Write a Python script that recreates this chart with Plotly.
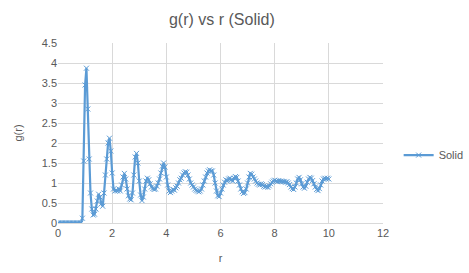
import plotly.graph_objects as go

r_vals = [0.00, 0.05, 0.10, 0.15, 0.20, 0.25, 0.30, 0.35, 0.40, 0.45,
          0.50, 0.55, 0.60, 0.65, 0.70, 0.75, 0.80, 0.85, 0.90, 0.95,
          1.00, 1.05, 1.10, 1.15, 1.20, 1.25, 1.30, 1.35, 1.40, 1.45,
          1.50, 1.55, 1.60, 1.65, 1.70, 1.75, 1.80, 1.85, 1.90, 1.95,
          2.00, 2.05, 2.10, 2.15, 2.20, 2.25, 2.30, 2.35, 2.40, 2.45,
          2.50, 2.55, 2.60, 2.65, 2.70, 2.75, 2.80, 2.85, 2.90, 2.95,
          3.00, 3.05, 3.10, 3.15, 3.20, 3.25, 3.30, 3.35, 3.40, 3.45,
          3.50, 3.55, 3.60, 3.65, 3.70, 3.75, 3.80, 3.85, 3.90, 3.95,
          4.00, 4.05, 4.10, 4.15, 4.20, 4.25, 4.30, 4.35, 4.40, 4.45,
          4.50, 4.55, 4.60, 4.65, 4.70, 4.75, 4.80, 4.85, 4.90, 4.95,
          5.00, 5.05, 5.10, 5.15, 5.20, 5.25, 5.30, 5.35, 5.40, 5.45,
          5.50, 5.55, 5.60, 5.65, 5.70, 5.75, 5.80, 5.85, 5.90, 5.95,
          6.00, 6.05, 6.10, 6.15, 6.20, 6.25, 6.30, 6.35, 6.40, 6.45,
          6.50, 6.55, 6.60, 6.65, 6.70, 6.75, 6.80, 6.85, 6.90, 6.95,
          7.00, 7.05, 7.10, 7.15, 7.20, 7.25, 7.30, 7.35, 7.40, 7.45,
          7.50, 7.55, 7.60, 7.65, 7.70, 7.75, 7.80, 7.85, 7.90, 7.95,
          8.00, 8.05, 8.10, 8.15, 8.20, 8.25, 8.30, 8.35, 8.40, 8.45,
          8.50, 8.55, 8.60, 8.65, 8.70, 8.75, 8.80, 8.85, 8.90, 8.95,
          9.00, 9.05, 9.10, 9.15, 9.20, 9.25, 9.30, 9.35, 9.40, 9.45,
          9.50, 9.55, 9.60, 9.65, 9.70, 9.75, 9.80, 9.85, 9.90, 9.95,
          10.00]

g_solid = [0, 0, 0, 0, 0, 0, 0, 0, 0, 0,
           0, 0, 0, 0, 0, 0, 0, 0, 0.12, 1.55,
           3.45, 3.87, 2.85, 1.60, 0.75, 0.35, 0.20, 0.22, 0.35, 0.55,
           0.72, 0.65, 0.48, 0.42, 0.75, 1.20, 1.60, 2.00, 2.12, 1.80,
           1.25, 0.85, 0.80, 0.82, 0.80, 0.85, 0.80, 0.95, 1.15, 1.24,
           1.10, 0.85, 0.68, 0.60, 0.58, 0.75, 1.20, 1.65, 1.74, 1.50,
           1.05, 0.70, 0.56, 0.65, 0.85, 1.05, 1.12, 1.08, 0.98, 0.90,
           0.86, 0.84, 0.85, 0.92, 1.00, 1.10, 1.25, 1.42, 1.50, 1.40,
           1.15, 0.95, 0.80, 0.76, 0.80, 0.84, 0.82, 0.88, 0.92, 1.00,
           1.08, 1.12, 1.20, 1.25, 1.28, 1.27, 1.20, 1.10, 1.00, 0.95,
           0.90, 0.85, 0.82, 0.80, 0.78, 0.80, 0.85, 0.95, 1.05, 1.15,
           1.25, 1.30, 1.33, 1.30, 1.30, 1.20, 1.00, 0.80, 0.68, 0.66,
           0.75, 0.85, 0.95, 1.02, 1.08, 1.05, 1.10, 1.12, 1.08, 1.05,
           1.12, 1.16, 1.14, 1.05, 0.95, 0.85, 0.78, 0.74, 0.76, 0.85,
           1.00, 1.15, 1.24, 1.22, 1.15, 1.10, 1.05, 1.00, 0.97, 0.95,
           0.98, 0.96, 0.92, 0.90, 0.92, 0.89, 0.93, 0.98, 1.02, 1.05,
           1.07, 1.05, 1.04, 1.06, 1.04, 1.05, 1.03, 1.04, 1.02, 1.03,
           1.00, 0.96, 0.90, 0.86, 0.84, 0.90, 1.00, 1.10, 1.14, 1.08,
           0.98, 0.90, 0.87, 0.92, 1.02, 1.10, 1.14, 1.12, 1.06, 0.98,
           0.90, 0.84, 0.81, 0.86, 0.95, 1.05, 1.10, 1.12, 1.10, 1.12,
           1.10]

x_ticks = [0, 2, 4, 6, 8, 10, 12]
y_ticks = [0, 0.5, 1, 1.5, 2, 2.5, 3, 3.5, 4, 4.5]

BLUE = "#5B9BD5"
GRID = "#D9D9D9"
TXT = "#595959"
FONT = "Liberation Sans"

fig = go.Figure()
fig.add_trace(go.Scatter(
    x=r_vals, y=g_solid, mode="lines+markers", name="Solid",
    line=dict(color=BLUE, width=2.2),
    marker=dict(symbol="x-thin", size=5, color=BLUE, line=dict(color=BLUE, width=1)),
))

fig.update_layout(
    width=469, height=273,
    margin=dict(l=58, r=86, t=43, b=50, autoexpand=False),
    paper_bgcolor="white", plot_bgcolor="white",
    font=dict(family=FONT, color=TXT, size=11),
    title=dict(text="g(r) vs r (Solid)", x=0.473, xanchor="center", y=0.93, yanchor="middle",
               font=dict(family=FONT, size=16, color=TXT)),
    showlegend=True,
    legend=dict(xref="container", yref="container", x=0.85, y=0.432,
                xanchor="left", yanchor="middle",
                font=dict(family=FONT, size=11, color=TXT), itemwidth=30,
                bgcolor="rgba(0,0,0,0)"),
    xaxis=dict(range=[0, 12], tickvals=x_ticks, showgrid=True, gridcolor=GRID, gridwidth=1,
               zeroline=False, showline=True, linecolor=GRID, ticks="",
               tickfont=dict(family=FONT, size=11, color=TXT),
               title=dict(text="r", font=dict(family=FONT, size=11, color=TXT), standoff=16)),
    yaxis=dict(range=[0, 4.5], tickvals=y_ticks, ticktext=[str(v) for v in y_ticks],
               showgrid=True, gridcolor=GRID, gridwidth=1,
               zeroline=False, showline=False, ticks="",
               tickfont=dict(family=FONT, size=11, color=TXT),
               title=dict(text="g(r)", font=dict(family=FONT, size=11, color=TXT), standoff=16)),
)

fig.write_html("out.html")
